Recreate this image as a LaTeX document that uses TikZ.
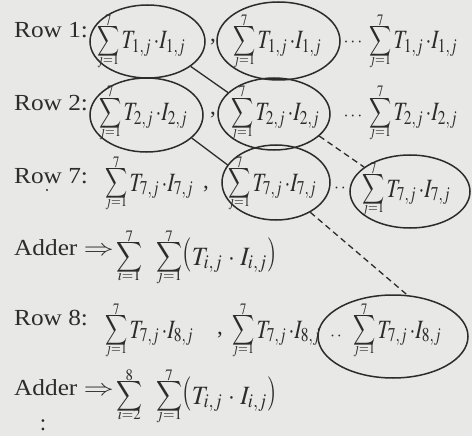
\documentclass[tikz,border=0pt]{standalone}
\usepackage{mathptmx}
\usepackage{exscale}
\usepackage{fontspec}
\setmainfont{Liberation Serif}
\usetikzlibrary{shapes.geometric}
\definecolor{paper}{HTML}{E8E8E6}
\definecolor{ink}{HTML}{2C2C2C}
\tikzset{
  lbl/.style={inner sep=0pt, anchor=base west, text=ink, font=\fontsize{23}{27}\selectfont},
  term/.style={inner sep=0pt, anchor=base west, text=ink, font=\fontsize{22}{26}\selectfont},
  dots/.style={inner sep=0pt, anchor=base, text=ink, font=\fontsize{18}{22}\selectfont},
  oval/.style={draw=ink, line width=1.5pt, ellipse, inner sep=0pt},
  conn/.style={draw=ink, line width=1.3pt},
  dconn/.style={draw=ink, line width=1.3pt, dash pattern=on 6pt off 4pt},
}
\newsavebox\sigbox
\newcommand{\bsum}[2]{\mathop{\hbox{%
  \sbox\sigbox{\scalebox{0.78}[0.85]{$\displaystyle\sum$}}%
  \rlap{\raisebox{2pt}{\usebox\sigbox}}%
  \rlap{\makebox[\wd\sigbox]{\raisebox{20pt}{$\scriptscriptstyle #2$}}}%
  \makebox[\wd\sigbox]{\raisebox{-13pt}{$\scriptscriptstyle #1$}}}}}
\newcommand{\trm}[2]{\scalebox{0.95}[1.2]{$\bsum{j=1}{7}T_{#1,j}\,{\cdot}I_{#2,j}$}}
\newcommand{\paren}[1]{\raisebox{1pt}{\scalebox{1}[1.3]{$#1$}}}
\newcommand{\adder}[2]{\scalebox{1.12}[1.2]{$\bsum{#1}{#2}\;\;\bsum{j=1}{7}\mathopen{\paren{(}}T_{i,j}\;{\cdot}\;I_{i,j}\mathclose{\paren{)}}$}}
\newcommand{\lab}[1]{\scalebox{1.1}[1]{#1}}
\begin{document}
\begin{tikzpicture}[x=1pt,y=-1pt]
\fill[paper] (0,0) rectangle (472,436);
\useasboundingbox (0,0) rectangle (472,436);
% ellipses
\node[oval, minimum width=115pt, minimum height=73pt] (e11) at (147.5,41.5) {};
\node[oval, minimum width=123pt, minimum height=78pt] (e12) at (278.5,41) {};
\node[oval, minimum width=113pt, minimum height=74pt] (e21) at (146.5,115) {};
\node[oval, minimum width=112pt, minimum height=72pt] (e22) at (274,114) {};
\node[oval, minimum width=108pt, minimum height=75pt] (e72) at (276,182.5) {};
\node[oval, minimum width=120pt, minimum height=73pt] (e73) at (410,191.5) {};
\node[oval, minimum width=150pt, minimum height=83pt] (e83) at (393,336.5) {};
% connectors
\draw[conn] (e11.-30) -- (e22.155);
\draw[conn] (e21.-27) -- (e72.160);
\draw[dconn] (e22.-26) -- (e73.152);
\draw[dconn] (e72.-41) -- (e83.71);
% Row 1
\node[lbl] (r1) at (14,38) {\lab{Row 1:}};
\node[term] (t11) at (97,49) {\trm{1}{1}};
\node[lbl] (c11) at (210,42) {,};
\node[term] (t12) at (233,49) {\trm{1}{1}};
\node[dots] (d11) at (353,47) {$\cdots$};
\node[term] (t13) at (369,49) {\trm{1}{1}};
% Row 2
\node[lbl] (r2) at (14,111) {\lab{Row 2:}};
\node[term] (t21) at (99,121) {\trm{2}{2}};
\node[lbl] (c21) at (210,114) {,};
\node[term] (t22) at (231,121) {\trm{2}{2}};
\node[dots] (d21) at (353,121) {$\cdots$};
\node[term] (t23) at (369,121) {\trm{2}{2}};
% Row 7
\node[lbl] (r7) at (14,183) {\lab{Row 7:}};
\fill[ink] (47,190) circle (1.1);
\node[term] (t71) at (105,191) {\trm{7}{7}};
\node[lbl] (c71) at (203,189) {,};
\node[term] (t72) at (228,191) {\trm{7}{7}};
\node[dots] (d71) at (340,193) {$\cdot\,\cdot$};
\node[term] (t73) at (362,197) {\trm{7}{7}};
% Adder 1
\node[lbl] (a1) at (14,255) {\lab{Adder \scalebox{1.2}[1]{$\Rightarrow$}}};
\node[term] (s1) at (116,265) {\adder{i=1}{7}};
% Row 8
\node[lbl] (r8) at (14,325) {\lab{Row 8:}};
\node[term] (t81) at (105,338) {\trm{7}{8}};
\node[lbl] (c81) at (217,334) {,};
\node[term] (t82) at (232,338) {\trm{7}{8}};
\node[dots] (d81) at (336,340) {$\cdot\,\cdot$};
\node[term] (t83) at (353,338) {\trm{7}{8}};
% Adder 2
\node[lbl] (a2) at (14,395) {\lab{Adder \scalebox{1.2}[1]{$\Rightarrow$}}};
\node[term] (s2) at (116,404) {\adder{i=2}{8}};
\node[lbl, anchor=base] (v2) at (43,430) {:};
\end{tikzpicture}
\end{document}
